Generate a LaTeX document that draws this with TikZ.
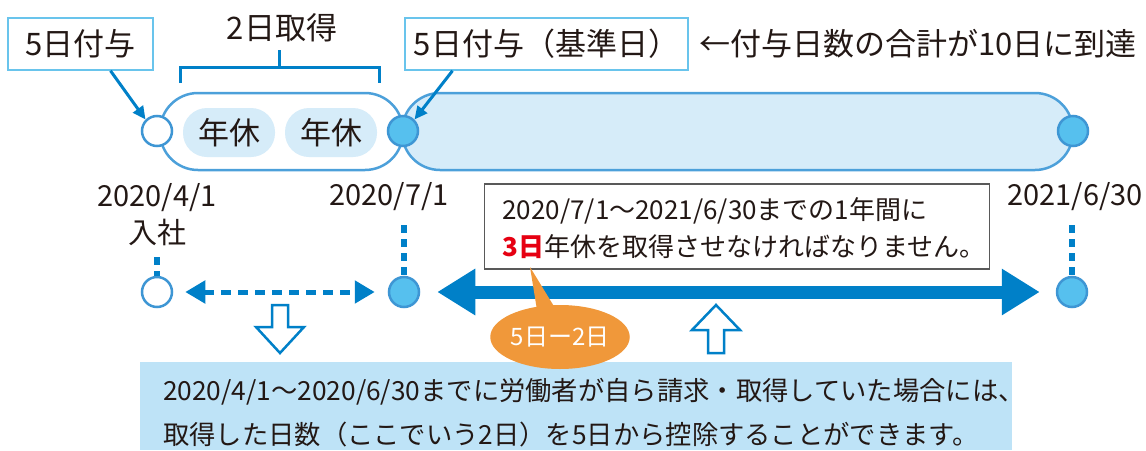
\documentclass[tikz,border=0pt]{standalone}
\usepackage{fontspec}
\setmainfont{Noto Sans CJK JP}
\usetikzlibrary{arrows.meta,shapes.geometric}

\definecolor{lineblue}{RGB}{0,128,200}
\definecolor{framecyan}{RGB}{105,196,236}
\definecolor{dotfill}{RGB}{86,192,238}
\definecolor{dotline}{RGB}{62,150,212}
\definecolor{bandline}{RGB}{76,160,218}
\definecolor{bandfill}{RGB}{214,236,249}
\definecolor{notefill}{RGB}{190,227,247}
\definecolor{bubbleorange}{RGB}{240,152,58}
\definecolor{notered}{RGB}{230,0,18}
\definecolor{inkblack}{RGB}{35,24,21}

\newcommand{\toptext}{\fontsize{31}{37}\selectfont}
\newcommand{\bigtext}{\fontsize{29}{37}\selectfont}
\newcommand{\midtext}{\fontsize{26}{37}\selectfont}
\newcommand{\lowtext}{\fontsize{26.3}{44}\selectfont}
\newcommand{\smalltext}{\fontsize{24}{28}\selectfont}

\begin{document}
\begin{tikzpicture}[x=1pt,y=-1pt]
            \tikzstyle{every node}+=[inner sep=0pt, text=inkblack]
            \tikzstyle{band}=[draw=bandline, line width=2.5pt, rounded corners=38pt, minimum height=77pt]
            \tikzstyle{pill}=[fill=bandfill, rounded corners=24pt, minimum width=92pt, minimum height=49pt, font=\toptext]
            \tikzstyle{openpt}=[circle, draw=dotline, fill=white, line width=2.5pt, minimum size=30pt]
            \tikzstyle{fullpt}=[circle, draw=dotline, fill=dotfill, line width=2.5pt, minimum size=30pt]
            \tikzstyle{tag}=[draw=framecyan, line width=1.5pt, fill=white, minimum height=52pt, font=\toptext]
            \tikzstyle{ptr}=[lineblue, line width=3pt, -{Triangle[length=13pt,width=12pt]}]
            \tikzstyle{stub}=[lineblue, line width=5.5pt, dash pattern=on 8pt off 6pt]
            \tikzstyle{hollow}=[draw=lineblue, fill=white, line width=2.5pt, line join=miter]
            \useasboundingbox (0,0) rectangle (1146,450);
            % upper band
            \node [band, fill=white, minimum width=243pt] (term1) at (281.5,131.5) {};
            \node [band, fill=bandfill, minimum width=671pt] (term2) at (737.5,131.5) {};
            \node [pill] (leave1) at (229,132.5) {年休};
            \node [pill] (leave2) at (331,132.5) {年休};
            \node [openpt] (hire) at (157,131) {};
            \node [fullpt] (base) at (403,131) {};
            \node [fullpt] (close) at (1073,131) {};
            \node [tag, minimum width=145pt] (grant1) at (80.5,44) {5日付与};
            \node [tag, minimum width=283pt] (grant2) at (546.5,44) {5日付与（基準日）};
            \node [font=\toptext, anchor=west] (reach) at (699,44) {←付与日数の合計が10日に到達};
            \node [font=\toptext] (took) at (282,28) {2日取得};
            \draw [lineblue, line width=3pt, line join=miter] (180,83) -- (180,67) -- (379,67) -- (379,83) (279,67) -- (279,50);
            \draw [ptr] ([xshift=30pt]grant1.south) -- (hire.north west);
            \draw [ptr] ([xshift=-94pt]grant2.south) -- (base.north east);
            % dates
            \node [font=\bigtext, align=center] (d1) at (157,215) {2020/4/1\\入社};
            \node [font=\bigtext] (d2) at (389,197) {2020/7/1};
            \node [font=\bigtext] (d3) at (1075,197) {2021/6/30};
            % lower line
            \node [openpt] (hire2) at (157,292) {};
            \node [fullpt] (base2) at (404,292) {};
            \node [fullpt] (close2) at (1072,292) {};
            \coordinate (s1) at (157,257);
            \coordinate (s2) at (404,225);
            \coordinate (s3) at (1072,225);
            \draw [stub] (s1) -- (hire2.north);
            \draw [stub] (s2) -- (base2.north);
            \draw [stub] (s3) -- (close2.north);
            \draw [lineblue, line width=5pt, dash pattern=on 10pt off 7pt, {Triangle[length=20pt,width=22pt]}-{Triangle[length=20pt,width=22pt]}, shorten <=12pt, shorten >=13pt] (hire2) -- (base2);
            \draw [lineblue, line width=13pt, {Triangle[length=38pt,width=44pt]}-{Triangle[length=38pt,width=44pt]}, shorten <=17pt, shorten >=16pt] (base2) -- (close2);
            \node [draw=gray!70!black, line width=1.2pt, fill=white, text width=469pt, inner xsep=18pt, text height=35pt, text depth=50pt, align=left, font=\midtext] (note) at (737,226.5) {2020/7/1～2021/6/30までの1年間に\\{\color{notered}\bfseries 3日}年休を取得させなければなりません。};
            \draw [hollow] (272,305) -- (288,305) -- (288,327) -- (304,327) -- (280,353) -- (256,327) -- (272,327) -- cycle;
            \draw [hollow] (708,353) -- (724,353) -- (724,330) -- (740,330) -- (716,305) -- (692,330) -- (708,330) -- cycle;
            % bottom note
            \node [fill=notefill, text width=826pt, inner xsep=23pt, text height=38pt, text depth=50pt, align=left, font=\lowtext, anchor=north west] (deduct) at (140,362) {2020/4/1～2020/6/30までに労働者が自ら請求・取得していた場合には、\\取得した日数（ここでいう2日）を5日から控除することができます。};
            \fill [bubbleorange] (530,267) -- (537,310) -- (555,308) -- cycle;
            \node [ellipse, fill=bubbleorange, minimum width=132pt, minimum height=64pt, text=white, font=\smalltext] (diff) at (560,337) {5日ー2日};
\end{tikzpicture}
\end{document}
